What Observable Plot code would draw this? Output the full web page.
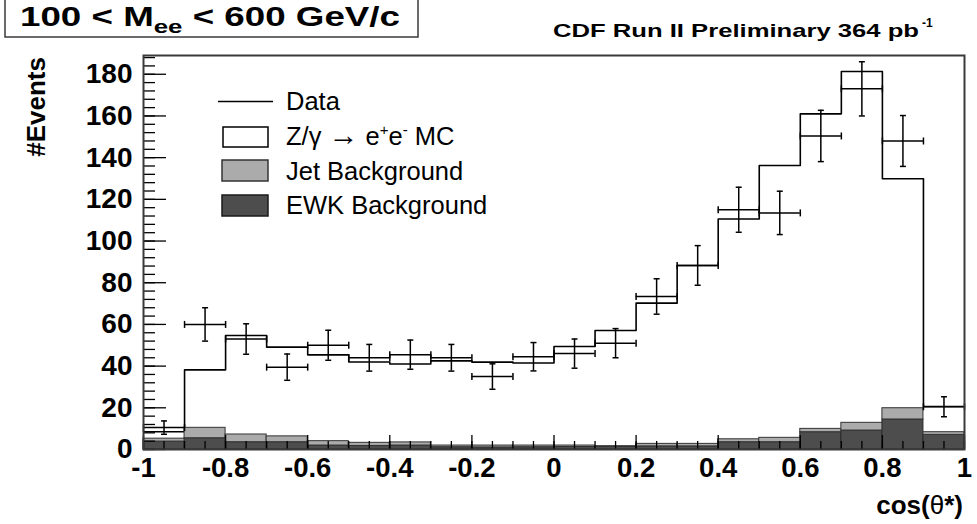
<!DOCTYPE html>
<html><head><meta charset="utf-8">
<script src="https://cdn.jsdelivr.net/npm/d3@7"></script>
<script src="https://cdn.jsdelivr.net/npm/@observablehq/plot@0.6"></script>
<style>
body{margin:0;background:#fff;}
#wrap{position:relative;width:977px;height:524px;overflow:hidden;background:#fff;font-family:"Liberation Sans",Arial,sans-serif;}
#wrap > svg{position:absolute;left:0;top:0;}
#overlay{pointer-events:none;}
</style>
</head><body>
<div id="wrap"></div>
<script>
// ---- data ----
const binEdges = [-1,-0.9,-0.8,-0.7,-0.6,-0.5,-0.4,-0.3,-0.2,-0.1,0,0.1,0.2,0.3,0.4,0.5,0.6,0.7,0.8,0.9,1];
const dataCounts = [10.5,60,53,39.5,50,44,45.5,44,35,44.5,46,51,73.4,88.3,115,113.5,150.4,173,148,20.5];
const dataErrors = [3.2,8,7.3,6.3,7.2,6.4,7,6.4,6.1,6.8,7,7,8.5,9.5,10.8,10.4,12.3,13,12.2,4.8];
const mcTotal = [8.5,38.2,54.7,49.1,45.4,42,41,42.5,41.9,41.5,49.4,57.1,70.2,88.3,110.6,136.2,161,181.3,129.9,20.6];
const ewkBkg = [3.8,5.4,3.5,3.5,1.9,1.7,1.9,1.1,1.0,1.1,1.2,1.2,1.5,1.5,3.5,3.5,8.3,9.1,14.4,7.0];
const jetBkg = [1.4,5.0,3.7,2.8,2.1,1.5,1.5,0.8,0.9,0.8,0.7,0.4,1.2,1.2,1.4,2.1,1.6,3.7,5.4,1.3];
const xTickLabels = [-1,-0.8,-0.6,-0.4,-0.2,0,0.2,0.4,0.6,0.8,1];
const yTickLabels = [0,20,40,60,80,100,120,140,160,180];
const legendLabels = ["Data","Z/γ → e⁺e⁻ MC","Jet Background","EWK Background"];

// ---- tables ----
const rows = dataCounts.map((v,i)=>({
  x1: binEdges[i], x2: binEdges[i+1], xc: (binEdges[i]+binEdges[i+1])/2,
  v, e: dataErrors[i], ewk: ewkBkg[i], jet: jetBkg[i]
}));
const mcSteps = binEdges.map((x,i)=>({x, y: mcTotal[Math.min(i, mcTotal.length-1)]}));
const xMinor = d3.range(-1, 1.0001, 0.05).map(d=>+d.toFixed(2));
const yMinor = d3.range(0, 189, 4);

const W = 977, H = 524, mL = 143, mR = 13, mT = 55, mB = 75;
const fw = W - mL - mR, fh = H - mT - mB;

const hCap = {draw(ctx, size){const r = Math.sqrt(size/Math.PI); ctx.moveTo(-r,0); ctx.lineTo(r,0);}};
const vCap = {draw(ctx, size){const r = Math.sqrt(size/Math.PI); ctx.moveTo(0,-r); ctx.lineTo(0,r);}};

const chart = Plot.plot({
  width: W, height: H,
  marginLeft: mL, marginRight: mR, marginTop: mT, marginBottom: mB,
  style: {fontFamily: "Liberation Sans, Arial, sans-serif", color: "#000", background: "#fff"},
  x: {domain: [-1, 1]},
  y: {domain: [0, 189]},
  marks: [
    // MC (stacked total) outline
    Plot.line(mcSteps, {x: "x", y: "y", curve: "step-after", stroke: "#000", strokeWidth: 1.6}),
    // backgrounds, stacked: EWK at the bottom, Jet above
    Plot.rect(rows, {x1: "x1", x2: "x2", y1: 0, y2: "ewk", fill: "#4d4d4d", stroke: "#2a2a2a", strokeWidth: 1}),
    Plot.rect(rows, {x1: "x1", x2: "x2", y1: "ewk", y2: d => d.ewk + d.jet, fill: "#ababab", stroke: "#333", strokeWidth: 1}),
    // data with error bars
    Plot.ruleX(rows, {x: "xc", y1: d => d.v - d.e, y2: d => d.v + d.e, stroke: "#000", strokeWidth: 1.5}),
    Plot.ruleY(rows, {y: "v", x1: "x1", x2: "x2", stroke: "#000", strokeWidth: 1.5}),
    Plot.dot(rows, {x: "xc", y: d => d.v + d.e, symbol: hCap, r: 3, stroke: "#000", strokeWidth: 1.5, fill: "none"}),
    Plot.dot(rows, {x: "xc", y: d => d.v - d.e, symbol: hCap, r: 3, stroke: "#000", strokeWidth: 1.5, fill: "none"}),
    Plot.dot(rows, {x: "x1", y: "v", symbol: vCap, r: 3.5, stroke: "#000", strokeWidth: 1.5, fill: "none"}),
    Plot.dot(rows, {x: "x2", y: "v", symbol: vCap, r: 3.5, stroke: "#000", strokeWidth: 1.5, fill: "none"}),
    // inner ticks (ROOT style)
    Plot.tickY(yMinor, {y: d => d, insetRight: fw - 12, stroke: "#000", strokeWidth: 1.3}),
    Plot.tickY(yTickLabels, {y: d => d, insetRight: fw - 23, stroke: "#000", strokeWidth: 1.3}),
    Plot.tickX(xMinor, {x: d => d, insetTop: fh - 8, stroke: "#000", strokeWidth: 1.3}),
    Plot.tickX(xTickLabels, {x: d => d, insetTop: fh - 14, stroke: "#000", strokeWidth: 1.3}),
    Plot.axisY({ticks: yTickLabels, tickFormat: d => String(d), tickSize: 0, tickPadding: 11, fontSize: 28, fontWeight: "bold", label: null}),
    Plot.axisX({ticks: xTickLabels, tickFormat: d => String(d), tickSize: 0, tickPadding: 8, fontSize: 27.5, fontWeight: "bold", label: null}),
    Plot.frame({stroke: "#3a3a3a", strokeWidth: 2})
  ]
});
const wrap = document.getElementById("wrap");
wrap.appendChild(chart);

// ---- overlay: titles, axis titles, legend ----
const ov = d3.select(wrap).append("svg").attr("id","overlay").attr("width",W).attr("height",H)
  .attr("font-family","Liberation Sans, Arial, sans-serif");

ov.append("rect").attr("x",5).attr("y",-30).attr("width",413).attr("height",67)
  .attr("fill","#fff").attr("stroke","#3a3a3a").attr("stroke-width",1.5);
const t1 = ov.append("text").attr("x",20).attr("y",26).attr("font-size",27).attr("font-weight","bold")
  .attr("textLength",380).attr("lengthAdjust","spacingAndGlyphs");
t1.append("tspan").text("100 < M");
t1.append("tspan").attr("font-size",19).attr("dy",7).text("ee");
t1.append("tspan").attr("dy",-7).text(" < 600 GeV/c");

ov.append("text").attr("x",553).attr("y",37).attr("font-size",19).attr("font-weight","bold")
  .attr("textLength",366).attr("lengthAdjust","spacingAndGlyphs")
  .text("CDF Run II Preliminary 364 pb");
ov.append("text").attr("x",922).attr("y",27).attr("font-size",12).attr("font-weight","bold").text("-1");

ov.append("text").attr("transform","translate(45,57) rotate(-90)").attr("text-anchor","end")
  .attr("font-size",26).attr("font-weight","bold").text("#Events");

const t3 = ov.append("text").attr("x",963).attr("y",514).attr("text-anchor","end")
  .attr("font-size",26).attr("font-weight","bold");
t3.append("tspan").text("cos(");
t3.append("tspan").attr("font-weight","normal").text("θ");
t3.append("tspan").text("*)");

// legend
const lg = ov.append("g").attr("font-size",25.5);
lg.append("line").attr("x1",218).attr("x2",273).attr("y1",101.5).attr("y2",101.5).attr("stroke","#000").attr("stroke-width",1.5);
lg.append("rect").attr("x",223).attr("y",127).attr("width",45).attr("height",20).attr("fill","#fff").attr("stroke","#000").attr("stroke-width",1.5);
lg.append("rect").attr("x",222).attr("y",160).attr("width",46).attr("height",21).attr("fill","#ababab").attr("stroke","#333").attr("stroke-width",1.5);
lg.append("rect").attr("x",222).attr("y",195).attr("width",46).attr("height",21).attr("fill","#4d4d4d").attr("stroke","#1a1a1a").attr("stroke-width",1.5);
lg.append("text").attr("x",286).attr("y",109.5).text(legendLabels[0]);
const mcT = lg.append("text").attr("x",286).attr("y",145);
mcT.append("tspan").text("Z/γ ");
mcT.append("tspan").attr("font-size",30).text("→");
mcT.append("tspan").text(" e");
mcT.append("tspan").attr("font-size",15).attr("dy",-10).text("+");
mcT.append("tspan").attr("dy",10).text("e");
mcT.append("tspan").attr("font-size",15).attr("dy",-10).text("-");
mcT.append("tspan").attr("dy",10).text(" MC");
lg.append("text").attr("x",286).attr("y",180).text(legendLabels[2]);
lg.append("text").attr("x",286).attr("y",214).text(legendLabels[3]);
</script>
</body></html>
